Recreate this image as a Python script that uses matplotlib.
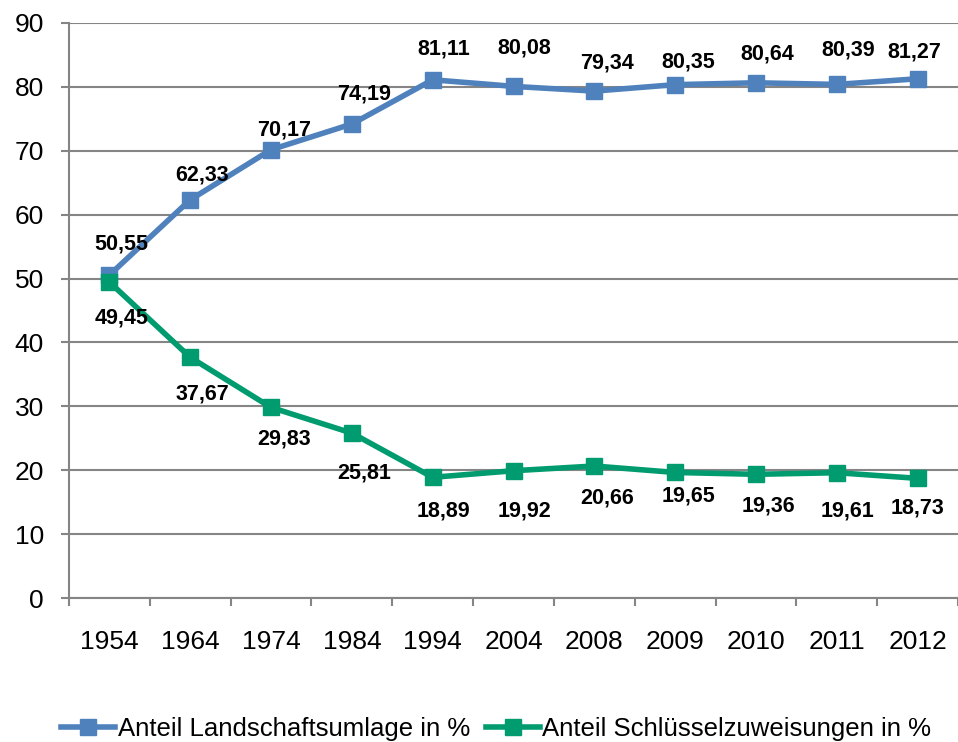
import matplotlib
matplotlib.use("Agg")
import matplotlib.pyplot as plt
import numpy as np

plt.rcParams['font.family'] = ['Liberation Sans', 'DejaVu Sans']

# Daten
jahre = ['1954', '1964', '1974', '1984', '1994', '2004', '2008', '2009', '2010', '2011', '2012']
landschaftsumlage = [50.55, 62.33, 70.17, 74.19, 81.11, 80.08, 79.34, 80.35, 80.64, 80.39, 81.27]
schluesselzuweisungen = [49.45, 37.67, 29.83, 25.81, 18.89, 19.92, 20.66, 19.65, 19.36, 19.61, 18.73]

blau = '#4F81BD'
gruen = '#009B6E'
grau = '#858585'

# Label-Verschiebungen in Pixel (wie im Original manuell gesetzt)
off_blau = [(12, 31), (12, 25), (13, 20), (12, 30), (11, 31), (11, 38), (13, 28),
            (13, 23), (11, 29), (11, 34), (-3, 27)]
off_gruen = [(12, -36), (12, -37), (13, -32), (12, -40), (11, -34), (11, -40), (13, -32),
             (13, -24), (12, -32), (11, -38), (0, -30)]

fig = plt.figure(figsize=(9.58, 7.42), dpi=100)
ax = fig.add_axes([69 / 958, 1 - 598 / 742, (958 - 69) / 958, (598 - 23) / 742])

x = np.arange(len(jahre))
ax.plot(x, landschaftsumlage, color=blau, lw=4, marker='s', ms=12,
        label='Anteil Landschaftsumlage in %', zorder=3, clip_on=False)
ax.plot(x, schluesselzuweisungen, color=gruen, lw=4, marker='s', ms=12,
        label='Anteil Schlüsselzuweisungen in %', zorder=4, clip_on=False)

def fmt(v):
    return ('%.2f' % v).replace('.', ',')

for i, v in enumerate(landschaftsumlage):
    ax.annotate(fmt(v), (x[i], v), xytext=off_blau[i], textcoords='offset pixels',
                ha='center', va='center', fontsize=15.5, fontweight='bold', zorder=5)
for i, v in enumerate(schluesselzuweisungen):
    ax.annotate(fmt(v), (x[i], v), xytext=off_gruen[i], textcoords='offset pixels',
                ha='center', va='center', fontsize=15.5, fontweight='bold', zorder=5)

ax.set_xlim(-0.5, len(jahre) - 0.5)
ax.set_ylim(0, 90)
ax.set_yticks(range(0, 91, 10))
ax.grid(axis='y', color=grau, lw=1.5, zorder=0)
ax.set_axisbelow(True)

ax.set_xticks(x)
ax.set_xticklabels(jahre)
ax.set_xticks(np.arange(-0.5, len(jahre), 1), minor=True)
ax.tick_params(axis='x', which='major', length=0, pad=23, labelsize=19)
ax.tick_params(axis='x', which='minor', length=6, width=1.5, color=grau)
ax.tick_params(axis='y', length=6, width=1.5, color=grau, pad=12, labelsize=19)

for s in ['top', 'right']:
    ax.spines[s].set_visible(False)
for s in ['left', 'bottom']:
    ax.spines[s].set_color(grau)
    ax.spines[s].set_linewidth(1.5)

fig.legend(loc='center', bbox_to_anchor=(0.518, 0.017), ncol=2, frameon=False,
           fontsize=18.5, handlelength=2.1, handletextpad=0.1, columnspacing=0.6,
           borderpad=0, borderaxespad=0)

fig.savefig('out.png', dpi=100)
